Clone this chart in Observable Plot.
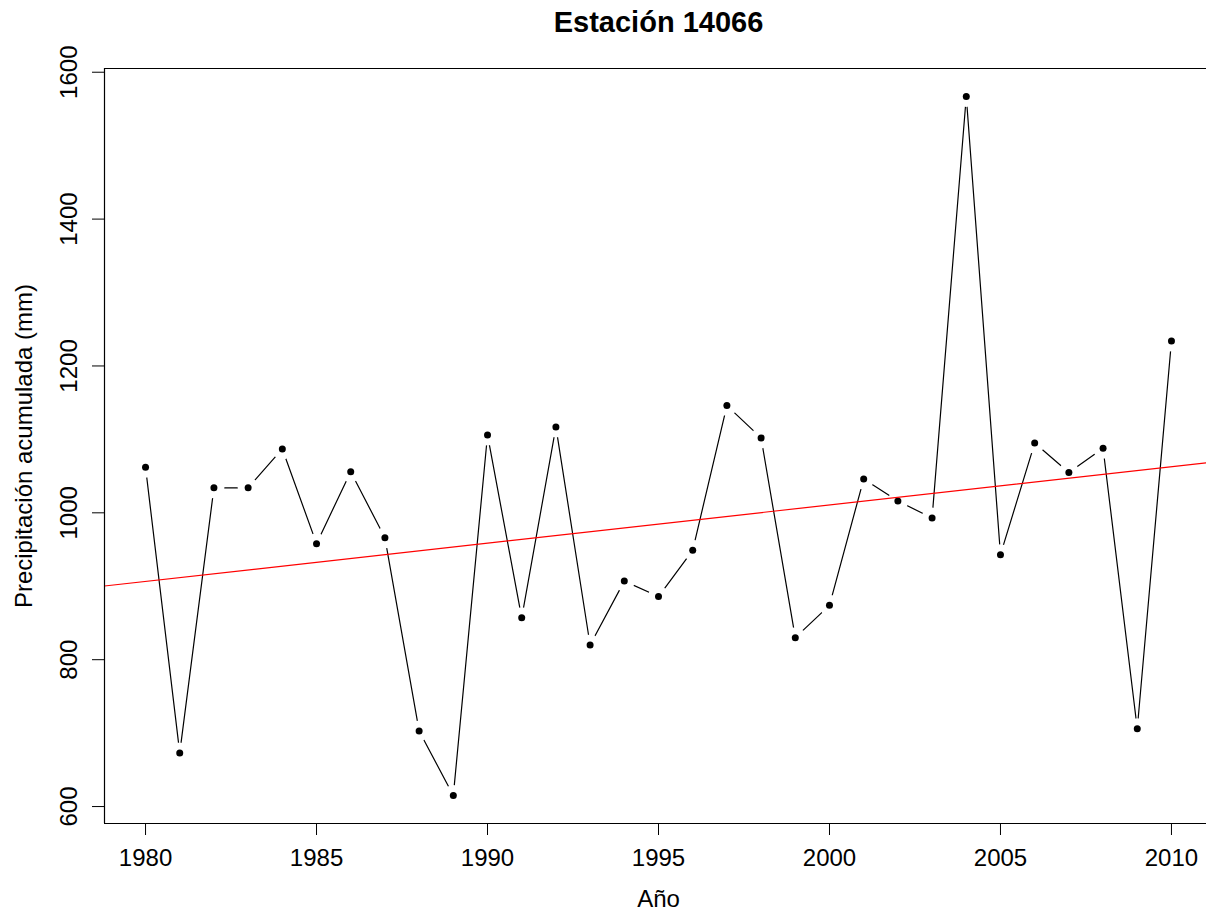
<!DOCTYPE html>
<html>
<head>
<meta charset="utf-8">
<script src="https://cdn.jsdelivr.net/npm/d3@7"></script>
<script src="https://cdn.jsdelivr.net/npm/@observablehq/plot@0.6"></script>
<style>
  html, body { margin: 0; padding: 0; background: #fff; overflow: hidden; }
  #chart svg { display: block; }
</style>
</head>
<body>
<div id="chart"></div>
<script>
const title = "Estación 14066";
const xLabel = "Año";
const yLabel = "Precipitación acumulada (mm)";
const years = [1980, 1981, 1982, 1983, 1984, 1985, 1986, 1987, 1988, 1989, 1990,
  1991, 1992, 1993, 1994, 1995, 1996, 1997, 1998, 1999, 2000,
  2001, 2002, 2003, 2004, 2005, 2006, 2007, 2008, 2009, 2010];
const precip = [1062, 673, 1034, 1034, 1087, 958, 1056, 966, 703, 615, 1106,
  857, 1117, 820, 907, 886, 949, 1146, 1102, 830, 874,
  1046, 1016, 993, 1567, 943, 1095, 1055, 1088, 706, 1234];
const xTicks = [1980, 1985, 1990, 1995, 2000, 2005, 2010];
const yTicks = [600, 800, 1000, 1200, 1400, 1600];

const data = years.map((year, i) => ({year, value: precip[i]}));

// R-style 4% axis extension
function extend([a, b]) { const d = (b - a) * 0.04; return [a - d, b + d]; }
const xDomain = extend(d3.extent(years));
const yDomain = extend(d3.extent(precip));

// least-squares regression (abline(lm(...)))
const mx = d3.mean(years), my = d3.mean(precip);
const slope = d3.sum(years, (x, i) => (x - mx) * (precip[i] - my)) / d3.sum(years, x => (x - mx) ** 2);
const intercept = my - slope * mx;
const regLine = xDomain.map(x => ({year: x, value: intercept + slope * x}));

const font = "'Liberation Sans', Arial, Helvetica, sans-serif";

const chart = Plot.plot({
  width: 1206,
  height: 913,
  marginLeft: 104,
  marginRight: 0,
  marginTop: 68,
  marginBottom: 90,
  style: {fontFamily: font, background: "#fff", color: "#000"},
  x: {domain: xDomain, range: [104, 1212], axis: null, label: null},
  y: {domain: yDomain, axis: null, label: null},
  marks: [
    Plot.line(data, {x: "year", y: "value", stroke: "#000", strokeWidth: 1.2}),
    Plot.dot(data, {x: "year", y: "value", r: 10.5, fill: "#fff", stroke: "none"}),
    Plot.dot(data, {x: "year", y: "value", r: 3.5, fill: "#000", stroke: "none"}),
    Plot.line(regLine, {x: "year", y: "value", stroke: "#ff0000", strokeWidth: 1.2}),
    // box (left, top, bottom)
    Plot.ruleX([xDomain[0]], {stroke: "#000", strokeWidth: 1.2}),
    Plot.ruleY(yDomain, {stroke: "#000", strokeWidth: 1.2}),
    // axes
    Plot.axisX(xTicks, {tickSize: 12, tickPadding: 13, fontSize: 24, stroke: "#000", fill: "#000", tickFormat: d => String(d), label: null}),
    Plot.axisY(yTicks, {tickSize: 12, tickFormat: () => "", stroke: "#000", label: null}),
    Plot.text(yTicks, {y: d => d, text: d => String(d), frameAnchor: "left", dx: -35, rotate: -90,
      textAnchor: "middle", lineAnchor: "middle", fontSize: 24, fill: "#000"}),
    // axis titles
    Plot.text([xLabel], {text: d => d, frameAnchor: "bottom", dy: 76, dx: 3,
      textAnchor: "middle", lineAnchor: "middle", fontSize: 24, fill: "#000"}),
    Plot.text([yLabel], {text: d => d, frameAnchor: "left", dx: -80, rotate: -90,
      textAnchor: "middle", lineAnchor: "middle", fontSize: 24, fill: "#000"}),
    // main title
    Plot.text([title], {text: d => d, frameAnchor: "top", dy: -46, dx: 3,
      textAnchor: "middle", lineAnchor: "middle", fontSize: 29, fontWeight: "bold", fill: "#000"})
  ]
});
document.getElementById("chart").appendChild(chart);
</script>
</body>
</html>
